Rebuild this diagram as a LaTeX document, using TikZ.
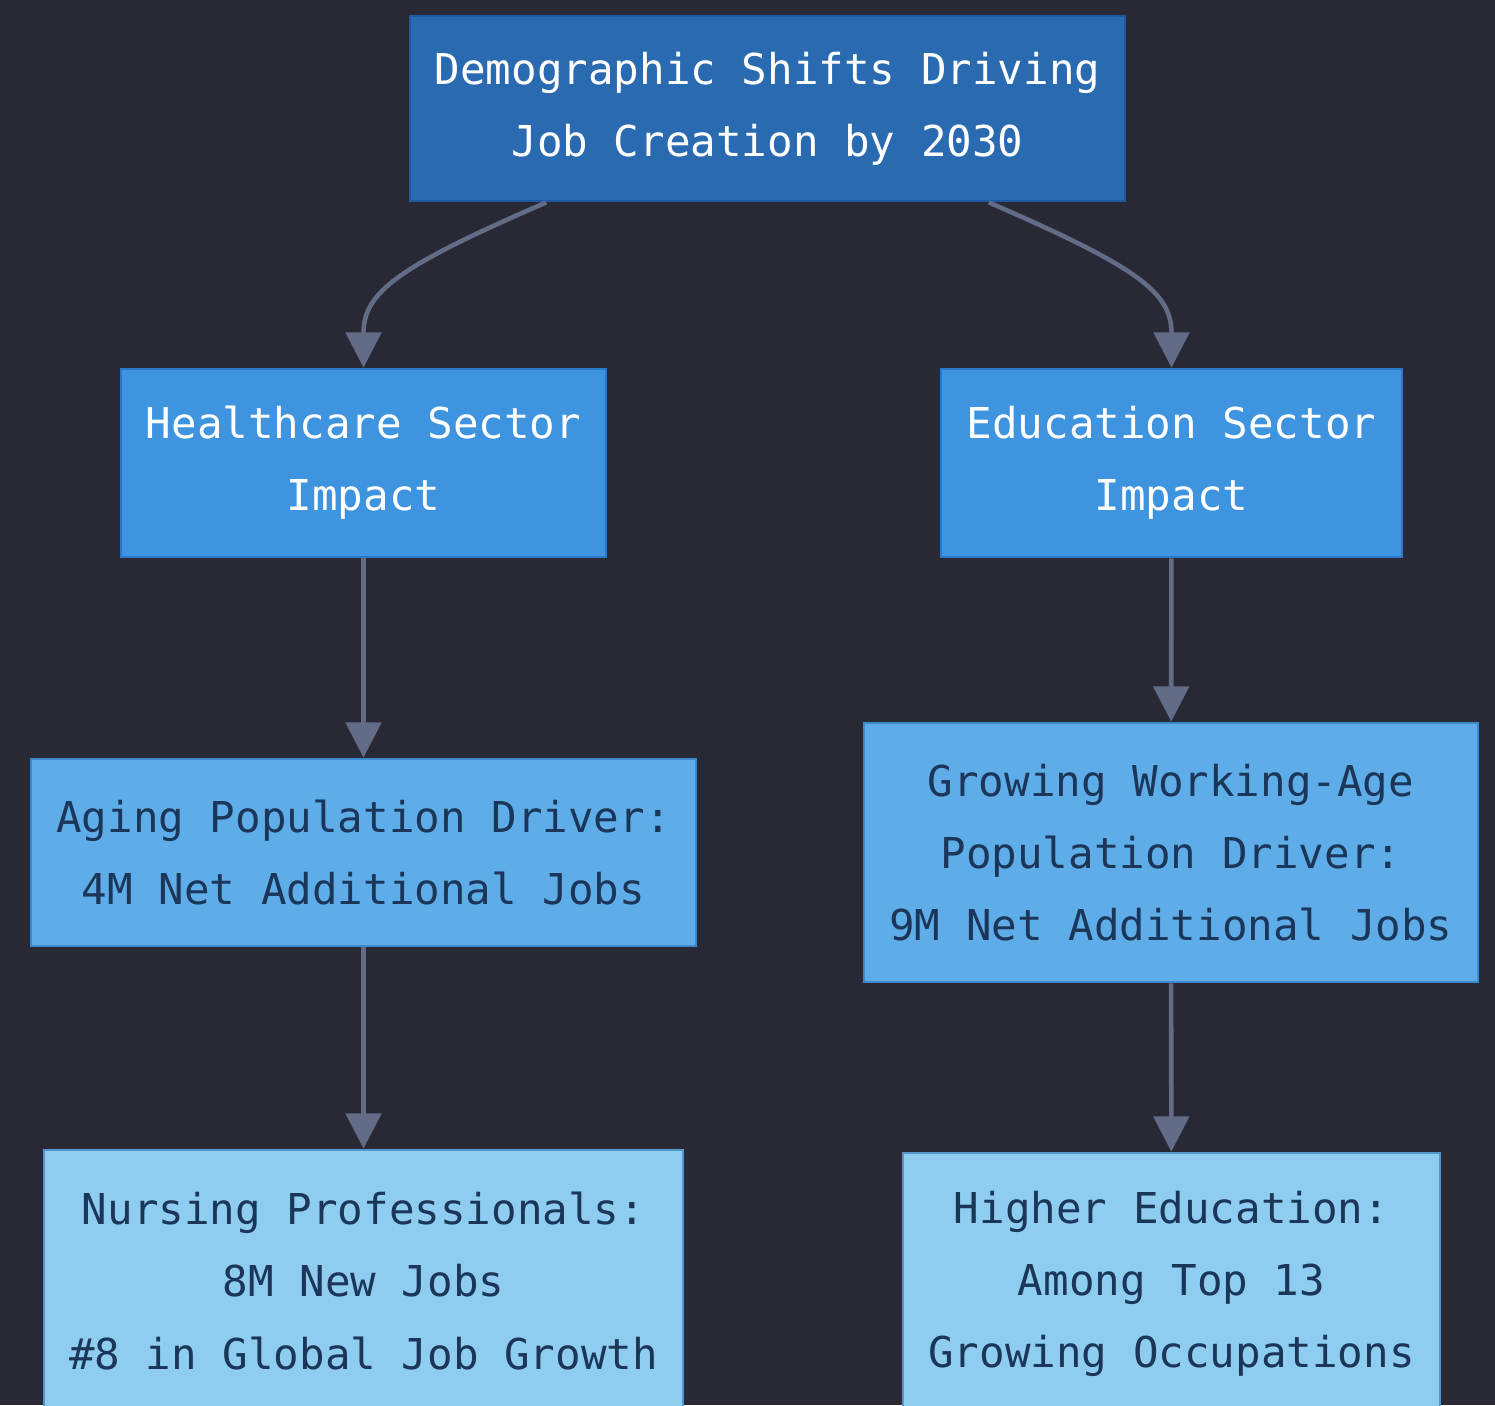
\documentclass[tikz,border=0pt]{standalone}
\usepackage{fontspec}
\setmonofont{DejaVu Sans Mono}
\usetikzlibrary{arrows.meta}

\definecolor{bg}{RGB}{40,41,52}
\definecolor{headfill}{RGB}{42,106,176}
\definecolor{headline}{RGB}{30,88,160}
\definecolor{sectorfill}{RGB}{63,148,224}
\definecolor{sectorline}{RGB}{42,120,200}
\definecolor{driverfill}{RGB}{94,173,232}
\definecolor{driverline}{RGB}{58,138,205}
\definecolor{outcomefill}{RGB}{142,205,240}
\definecolor{outcomeline}{RGB}{82,150,205}
\definecolor{arrowgray}{RGB}{98,108,135}
\definecolor{darktext}{RGB}{27,54,88}

\tikzset{box/.style={draw, line width=0.8pt, align=center, inner sep=0pt, font=\ttfamily\fontsize{12.1pt}{20.5pt}\selectfont}}
\tikzset{headbox/.style={box, fill=headfill, draw=headline, text=white}}
\tikzset{sector/.style={box, fill=sectorfill, draw=sectorline, text=white}}
\tikzset{driver/.style={box, fill=driverfill, draw=driverline, text=darktext}}
\tikzset{outcome/.style={box, fill=outcomefill, draw=outcomeline, text=darktext}}
\tikzset{flow/.style={draw=arrowgray, line width=1.3pt, -{Triangle[width=10pt,length=10pt]}}}

\begin{document}
\begin{tikzpicture}

	\fill[bg] (0,0) rectangle (14.95,-14.05);
	\useasboundingbox (0,0) rectangle (14.95,-14.05);

	\node[headbox, minimum width=7.15cm, minimum height=1.85cm] (head) at (7.675,-1.085) {Demographic Shifts Driving\\Job Creation by 2030};

	\node[sector, minimum width=4.85cm, minimum height=1.88cm] (healthcare) at (3.635,-4.63) {Healthcare Sector\\Impact};
	\node[sector, minimum width=4.61cm, minimum height=1.88cm] (education) at (11.715,-4.63) {Education Sector\\Impact};

	\node[driver, minimum width=6.65cm, minimum height=1.87cm] (aging) at (3.635,-8.525) {Aging Population Driver:\\4M Net Additional Jobs};
	\node[driver, minimum width=6.14cm, minimum height=2.59cm] (working-age) at (11.71,-8.525) {Growing Working-Age\\Population Driver:\\9M Net Additional Jobs};

	\node[outcome, minimum width=6.39cm, minimum height=2.62cm] (nursing) at (3.635,-12.81) {Nursing Professionals:\\8M New Jobs\\\#8 in Global Job Growth};
	\node[outcome, minimum width=5.37cm, minimum height=2.62cm] (higher-ed) at (11.715,-12.84) {Higher Education:\\Among Top 13\\Growing Occupations};

	\draw[flow] (head.203) .. controls +(-1.5,-0.65) and +(0,0.75) .. (healthcare.north);
	\draw[flow] (head.337) .. controls +(1.5,-0.65) and +(0,0.75) .. (education.north);
	\draw[flow] (healthcare) -- (aging);
	\draw[flow] (education) -- (working-age);
	\draw[flow] (aging) -- (nursing);
	\draw[flow] (working-age) -- (higher-ed);
\end{tikzpicture}
\end{document}
